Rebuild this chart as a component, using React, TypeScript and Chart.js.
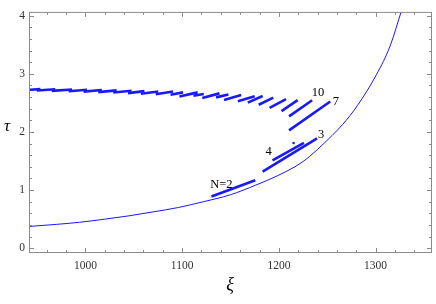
import React, { useEffect, useRef } from 'react';
import { Chart, registerables } from 'chart.js';

Chart.register(...registerables);

// Thin boundary curve
const curveXi = [942.7, 970, 994, 1020, 1045, 1070, 1096, 1122, 1150, 1176, 1199, 1224, 1240, 1255, 1266, 1281, 1301, 1315, 1327];
const curveTau = [0.375, 0.41, 0.446, 0.5, 0.557, 0.625, 0.7, 0.8, 0.92, 1.085, 1.25, 1.48, 1.7, 1.94, 2.13, 2.45, 2.99, 3.48, 4.1];

// Upper saw-tooth branches (start / end)
const topXi0 = [942.7, 949.8, 965.2, 982.6, 998.0, 1013.3, 1028.7, 1044.0, 1057.3, 1072.7, 1088.0, 1097.2, 1111.6, 1120.8, 1135.1, 1143.3, 1157.6, 1167.9, 1179.1, 1190.4, 1202.7];
const topXi1 = [953.5, 968.8, 986.2, 1001.6, 1017.0, 1032.3, 1047.7, 1061.0, 1075.3, 1090.6, 1100.9, 1116.0, 1122.4, 1138.6, 1147.8, 1161.0, 1175.0, 1183.2, 1194.2, 1207.4, 1219.4];
const topTau0 = [2.727, 2.714, 2.707, 2.701, 2.694, 2.686, 2.678, 2.669, 2.658, 2.65, 2.64, 2.612, 2.623, 2.583, 2.595, 2.55, 2.529, 2.504, 2.468, 2.413, 2.359];
const topTau1 = [2.738, 2.736, 2.731, 2.726, 2.721, 2.716, 2.709, 2.703, 2.696, 2.696, 2.681, 2.681, 2.653, 2.664, 2.643, 2.636, 2.614, 2.618, 2.592, 2.564, 2.547];

// Labelled branches N = 2, 3, 4, 7, 10
const branchXi0 = [1130.3, 1183.2, 1193.4, 1210.5, 1210.5];
const branchXi1 = [1175.6, 1239.5, 1225.9, 1253.1, 1234.4];
const branchTau0 = [0.888, 1.317, 1.51, 2.028, 2.269];
const branchTau1 = [1.168, 1.89, 1.813, 2.524, 2.545];

// Isolated point
const dotXi = [1215.2];
const dotTau = [1.81];

// Annotations
const labelText = ['N=2', '3', '4', '7', '10'];
const labelXi = [1140.5, 1243.6, 1189.4, 1259.0, 1240.5];
const labelTau = [1.084, 1.95, 1.653, 2.512, 2.678];

const X_MIN = 942.7;
const X_MAX = 1358.3;
const Y_MIN = -0.0826;
const Y_MAX = 4.066;

const BLUE = 'rgb(25,25,255)';
const SERIF = '"Liberation Serif", "Times New Roman", serif';

const framePlugin = {
  id: 'mmaFrame',
  afterDraw(chart: any) {
    const { ctx, chartArea: a, scales } = chart;
    const xs = scales.x;
    const ys = scales.y;
    ctx.save();
    // annotations
    ctx.fillStyle = '#000';
    ctx.font = `12.5px ${SERIF}`;
    ctx.textAlign = 'center';
    ctx.textBaseline = 'middle';
    labelText.forEach((t, i) => {
      ctx.fillText(t, xs.getPixelForValue(labelXi[i]), ys.getPixelForValue(labelTau[i]));
    });
    // frame
    const L = a.left - 0.5;
    const R = a.right - 0.5;
    const T = a.top + 0.5;
    const B = a.bottom - 0.5;
    ctx.strokeStyle = '#8c8c8c';
    ctx.lineWidth = 1;
    ctx.strokeRect(L, T, R - L, B - T);
    ctx.beginPath();
    xs.ticks.forEach((t: any) => {
      const p = Math.round(xs.getPixelForValue(t.value)) + 0.5;
      const major = Math.abs(t.value / 100 - Math.round(t.value / 100)) < 1e-6;
      const len = major ? 4.5 : 2.5;
      ctx.moveTo(p, B);
      ctx.lineTo(p, B - len);
      ctx.moveTo(p, T);
      ctx.lineTo(p, T + len);
    });
    ys.ticks.forEach((t: any) => {
      const p = Math.round(ys.getPixelForValue(t.value)) + 0.5;
      const major = Math.abs(t.value - Math.round(t.value)) < 1e-6;
      const len = major ? 4.5 : 2.5;
      ctx.moveTo(L, p);
      ctx.lineTo(L + len, p);
      ctx.moveTo(R, p);
      ctx.lineTo(R - len, p);
    });
    ctx.stroke();
    // axis titles
    ctx.fillStyle = '#000';
    ctx.font = `italic 18px ${SERIF}`;
    ctx.textAlign = 'center';
    ctx.textBaseline = 'middle';
    ctx.fillText('ξ', (a.left + a.right) / 2 - 1, 285);
    ctx.font = `italic 17px ${SERIF}`;
    ctx.fillText('τ', 7, 127);
    ctx.restore();
  },
};

function seg(x0: number, x1: number, y0: number, y1: number) {
  return {
    data: [
      { x: x0, y: y0 },
      { x: x1, y: y1 },
    ],
    borderColor: BLUE,
    borderWidth: 2.6,
    pointRadius: 0,
    fill: false,
  };
}

export default function App() {
  const ref = useRef<HTMLCanvasElement>(null);
  useEffect(() => {
    if (!ref.current) return;
    const datasets: any[] = [];
    datasets.push({
      data: curveXi.map((x, i) => ({ x, y: curveTau[i] })),
      borderColor: BLUE,
      borderWidth: 1,
      pointRadius: 0,
      cubicInterpolationMode: 'monotone',
      fill: false,
    });
    topXi0.forEach((x, i) => datasets.push(seg(x, topXi1[i], topTau0[i], topTau1[i])));
    branchXi0.forEach((x, i) => datasets.push(seg(x, branchXi1[i], branchTau0[i], branchTau1[i])));
    datasets.push({
      data: dotXi.map((x, i) => ({ x, y: dotTau[i] })),
      showLine: false,
      pointRadius: 1.3,
      pointBackgroundColor: BLUE,
      pointBorderWidth: 0,
      borderColor: BLUE,
    });
    const chart = new Chart(ref.current, {
      type: 'line',
      data: { datasets },
      options: {
        animation: false,
        responsive: false,
        devicePixelRatio: 1,
        layout: { padding: { top: 2, right: 0, left: 0, bottom: 0 } },
        plugins: { legend: { display: false }, tooltip: { enabled: false } },
        events: [],
        scales: {
          x: {
            type: 'linear',
            min: X_MIN,
            max: X_MAX,
            grid: { display: false, drawTicks: false },
            border: { display: false },
            afterFit: (s: any) => {
              s.height = 51;
            },
            ticks: {
              stepSize: 20,
              includeBounds: false,
              autoSkip: false,
              maxRotation: 0,
              maxTicksLimit: 100,
              padding: 6,
              color: '#333',
              font: { family: SERIF, size: 11.5 },
              callback: (v: any) => {
                const n = Number(v);
                return Math.abs(n / 100 - Math.round(n / 100)) < 1e-6 ? String(Math.round(n)) : '';
              },
            },
          },
          y: {
            type: 'linear',
            min: Y_MIN,
            max: Y_MAX,
            grid: { display: false, drawTicks: false },
            border: { display: false },
            afterFit: (s: any) => {
              s.width = 30;
            },
            ticks: {
              stepSize: 0.2,
              includeBounds: false,
              autoSkip: false,
              maxTicksLimit: 100,
              padding: 5,
              color: '#333',
              font: { family: SERIF, size: 11.5 },
              callback: (v: any) => {
                const n = Number(v);
                return Math.abs(n - Math.round(n)) < 1e-6 ? String(Math.round(n)) : '';
              },
            },
          },
        },
      },
      plugins: [framePlugin],
    });
    return () => chart.destroy();
  }, []);
  return (
    <div style={{ position: 'absolute', left: 0, top: 0, width: 436, height: 304, background: '#fff' }}>
      <canvas ref={ref} width={436} height={304} style={{ display: 'block' }} />
    </div>
  );
}
